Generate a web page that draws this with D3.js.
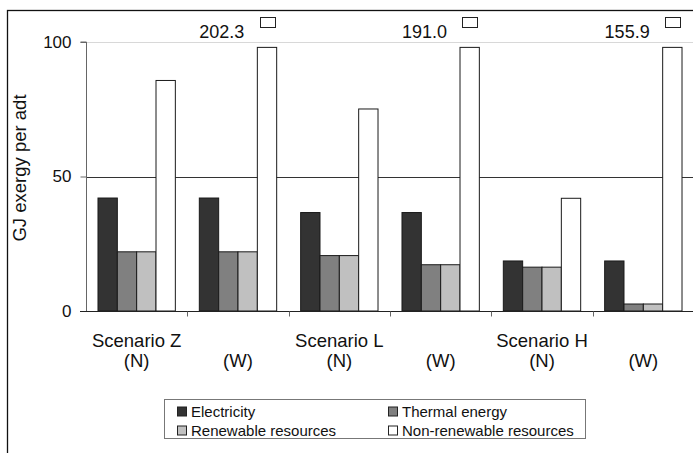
<!DOCTYPE html>
<html>
<head>
<meta charset="utf-8">
<script src="https://cdn.jsdelivr.net/npm/d3@7"></script>
<style>
  html, body { margin: 0; padding: 0; background: #fff; }
  svg { display: block; }
  svg text { font-family: "Liberation Sans", Arial, Helvetica, sans-serif; }
</style>
</head>
<body>
<svg id="chart" width="693" height="453"></svg>
<script>
// Exergy demand per air-dried tonne, by scenario and variant
const categories = ["Z (N)", "Z (W)", "L (N)", "L (W)", "H (N)", "H (W)"];
const categoryLine1 = ["Scenario Z", "", "Scenario L", "", "Scenario H", ""];
const categoryLine2 = ["(N)", "(W)", "(N)", "(W)", "(N)", "(W)"];

const seriesNames = ["Electricity", "Thermal energy", "Renewable resources", "Non-renewable resources"];
const electricity = [42.0, 42.0, 36.6, 36.6, 18.6, 18.6];
const thermalEnergy = [22.0, 22.0, 20.6, 17.2, 16.3, 2.6];
const renewableResources = [22.0, 22.0, 20.6, 17.2, 16.3, 2.6];
const nonRenewableResources = [85.7, 202.3, 75.1, 191.0, 41.9, 155.9];

const yTicks = [0, 50, 100];
const axisMax = 98; // bars beyond this are cut off and labelled with their value

const FONT = "'Liberation Sans', Arial, Helvetica, sans-serif";
const colors = ["#333333", "#808080", "#c0c0c0", "#ffffff"];
const series = [electricity, thermalEnergy, renewableResources, nonRenewableResources];

const svg = d3.select("#chart");

// outer frame (runs off the right and bottom edges)
svg.append("rect")
  .attr("x", 7.5).attr("y", 10.5)
  .attr("width", 720).attr("height", 480)
  .attr("fill", "none").attr("stroke", "#111").attr("stroke-width", 1.3);

const plot = { left: 86, right: 694, top: 42, bottom: 311 };

const x = d3.scaleBand().domain(categories).range([plot.left, plot.right]).paddingInner(0).paddingOuter(0);
const inner = d3.scaleBand().domain(d3.range(4)).range([0, x.bandwidth()]).paddingOuter(0.62).paddingInner(0);
const y = d3.scaleLinear().domain([0, 100]).range([plot.bottom, plot.top]);

// gridlines
svg.append("g").selectAll("line")
  .data(yTicks.filter(t => t > 0))
  .join("line")
  .attr("x1", plot.left).attr("x2", plot.right)
  .attr("y1", d => Math.round(y(d)) + 0.5).attr("y2", d => Math.round(y(d)) + 0.5)
  .attr("stroke", d => d === 100 ? "#d8d8d8" : "#333")
  .attr("stroke-width", 1);

// bars (heights capped at the axis limit)
const bars = svg.append("g");
series.forEach((vals, si) => {
  bars.selectAll(null)
    .data(vals.map((v, i) => ({ v, c: categories[i] })))
    .join("rect")
    .attr("x", d => x(d.c) + inner(si))
    .attr("width", inner.bandwidth())
    .attr("y", d => y(Math.min(d.v, axisMax)))
    .attr("height", d => y(0) - y(Math.min(d.v, axisMax)))
    .attr("fill", colors[si])
    .attr("stroke", "#1a1a1a")
    .attr("stroke-width", 1);
});

// value labels and markers for cut-off bars
const overflow = nonRenewableResources
  .map((v, i) => ({ v, c: categories[i] }))
  .filter(d => d.v > axisMax);
const og = svg.append("g");
overflow.forEach(d => {
  const bx = x(d.c) + inner(3);
  const cx = bx + inner.bandwidth() / 2;
  og.append("rect")
    .attr("x", Math.round(cx - 7.5) + 0.5).attr("y", 17.5)
    .attr("width", 15).attr("height", 10)
    .attr("fill", "#fff").attr("stroke", "#222").attr("stroke-width", 1);
  og.append("text")
    .attr("x", bx - 13).attr("y", 38)
    .attr("text-anchor", "end")
    .attr("font-family", FONT)
    .attr("font-size", 18)
    .attr("fill", "#111")
    .text(d3.format(".1f")(d.v));
});

// y axis
const yAxis = svg.append("g")
  .attr("transform", `translate(${plot.left + 0.5},0)`)
  .call(d3.axisLeft(y).tickValues(yTicks).tickSize(6).tickPadding(9).tickFormat(d3.format("d")));
yAxis.attr("font-family", FONT);
yAxis.select(".domain").attr("stroke", "#666").attr("d", `M-6,${y(100)}H0V${y(0)}`);
yAxis.selectAll(".tick line").attr("stroke", "#666");
yAxis.selectAll(".tick text").attr("font-size", 17).attr("fill", "#111");

// x axis
const xAxis = svg.append("g")
  .attr("transform", `translate(0,${plot.bottom + 0.5})`);
xAxis.append("line")
  .attr("x1", plot.left - 6).attr("x2", plot.right)
  .attr("stroke", "#222");
xAxis.selectAll("line.tk")
  .data(categories.slice(1))
  .join("line").attr("class", "tk")
  .attr("x1", d => Math.round(x(d)) + 0.5).attr("x2", d => Math.round(x(d)) + 0.5)
  .attr("y1", 0).attr("y2", 5)
  .attr("stroke", "#666");

const labels = svg.append("g")
  .attr("font-family", FONT).attr("font-size", 18.5)
  .attr("fill", "#111").attr("text-anchor", "middle");
categories.forEach((c, i) => {
  const cx = x(c) + x.bandwidth() / 2;
  if (categoryLine1[i]) labels.append("text").attr("x", cx).attr("y", 347).text(categoryLine1[i]);
  labels.append("text").attr("x", cx).attr("y", 367).text(categoryLine2[i]);
});

// y axis title
svg.append("text")
  .attr("transform", "translate(26,168) rotate(-90)")
  .attr("text-anchor", "middle")
  .attr("font-family", FONT)
  .attr("font-size", 18.5)
  .attr("fill", "#111")
  .text("GJ exergy per adt");

// legend
const lg = svg.append("g").attr("font-family", FONT);
lg.append("rect")
  .attr("x", 164.5).attr("y", 399.5).attr("width", 421).attr("height", 39)
  .attr("fill", "#fff").attr("stroke", "#777").attr("stroke-width", 1);
const legendPos = [[177, 406.5], [388, 406.5], [177, 425.5], [388, 425.5]];
seriesNames.forEach((name, i) => {
  const [lx, ly] = legendPos[i];
  lg.append("rect")
    .attr("x", lx + 0.5).attr("y", ly + 0.5).attr("width", 9).attr("height", 9)
    .attr("fill", colors[i]).attr("stroke", "#222").attr("stroke-width", 1);
  lg.append("text")
    .attr("x", lx + 14).attr("y", ly + 10)
    .attr("font-size", 15).attr("fill", "#111")
    .text(name);
});
</script>
</body>
</html>
